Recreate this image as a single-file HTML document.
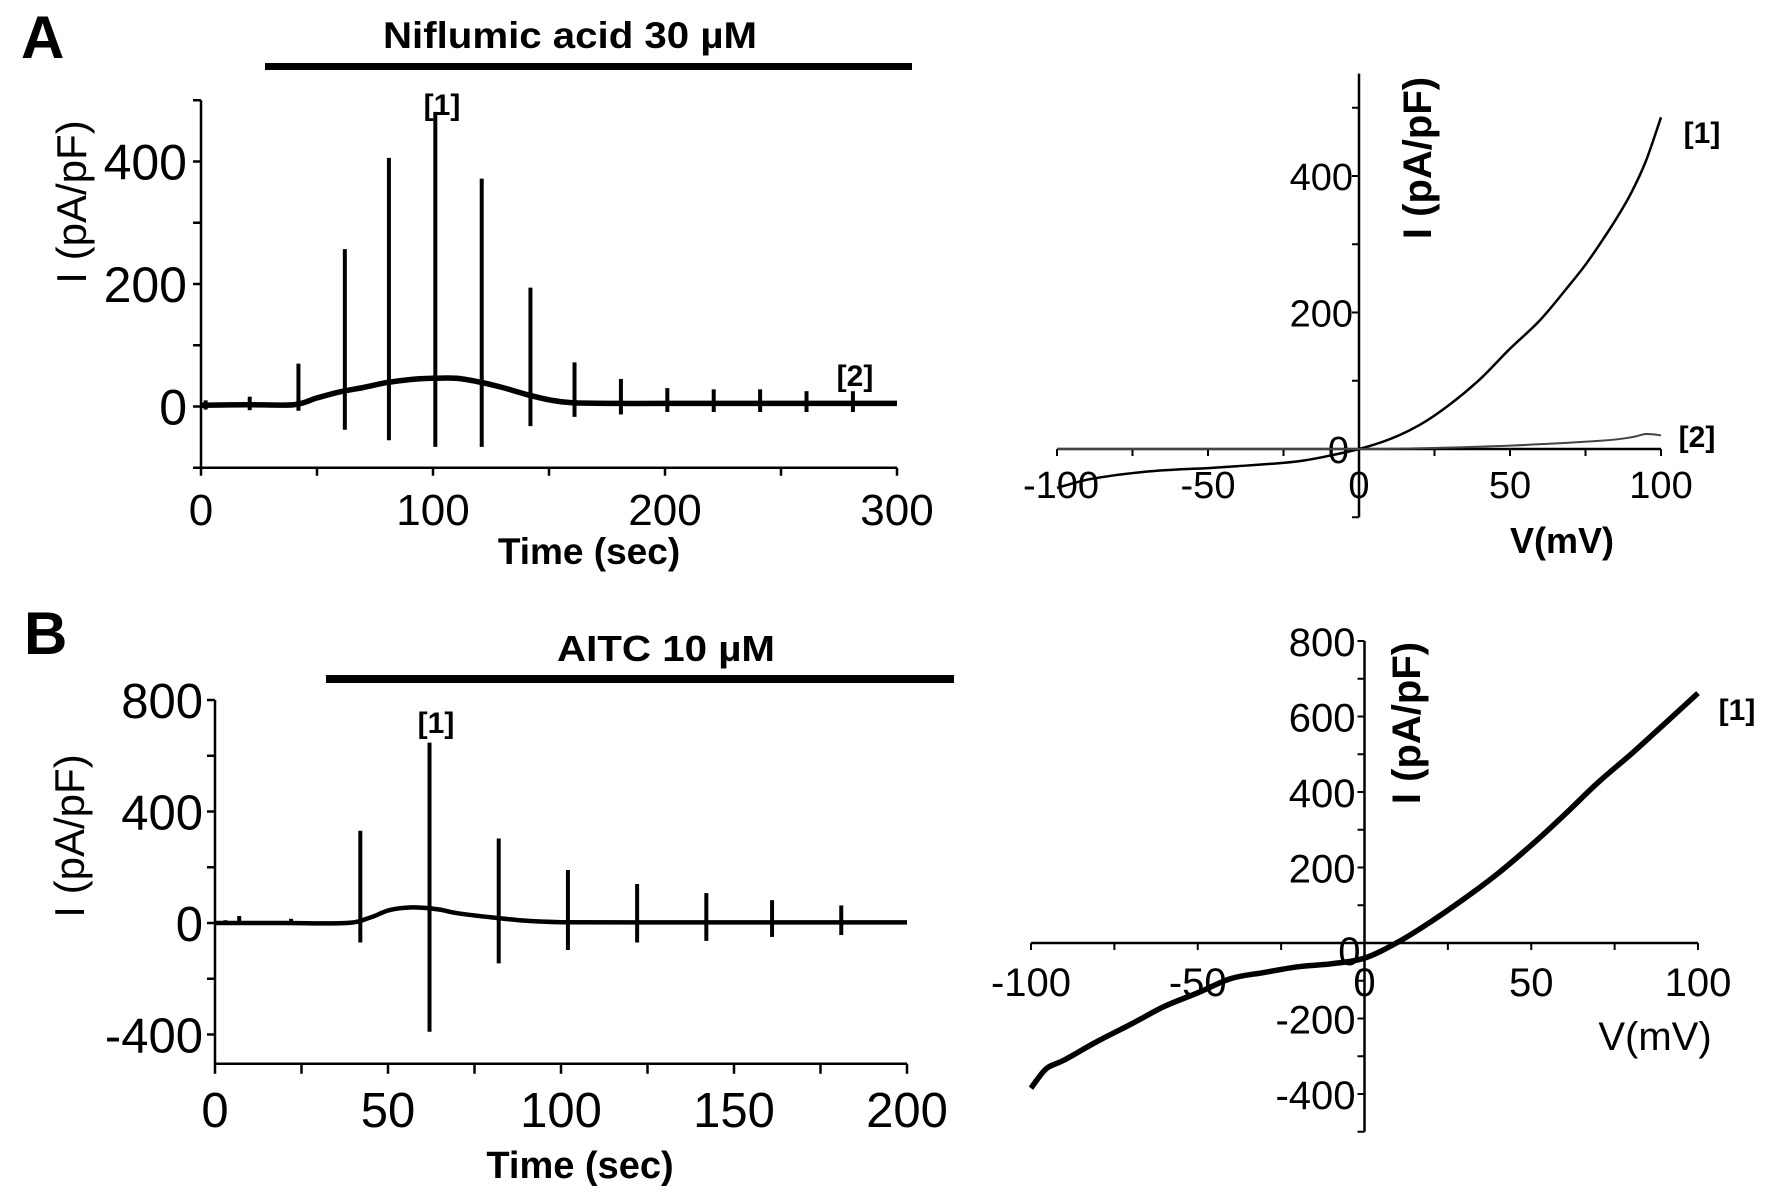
<!DOCTYPE html>
<html><head><meta charset="utf-8"><style>
html,body{margin:0;padding:0;background:#fff}
svg{display:block}
text{font-family:"Liberation Sans",Arial,sans-serif;fill:#000}
</style></head><body>
<svg id="fig" width="1772" height="1194" viewBox="0 0 1772 1194" xmlns="http://www.w3.org/2000/svg">
<rect width="1772" height="1194" fill="#fff"/>
<g id="root"></g>
</svg>
<script>
// ---- Panel A time trace data ----
const aBumpT = [0, 20, 40, 50, 60, 70, 80, 90, 100, 110, 120, 130, 140, 150, 160, 180, 200, 250, 300];
const aBumpI = [2, 3, 3, 14, 24, 31, 39, 44, 46, 46, 40, 31, 20, 11, 6, 5, 5, 5, 5];
const aSpikeT = [2, 21, 42, 62, 81, 101, 121, 142, 161, 181, 201, 221, 241, 261, 281];
const aSpikeUp = [10, 16, 70, 257, 406, 481, 372, 194, 72, 45, 30, 28, 28, 25, 25];
const aSpikeDn = [-5, -6, -7, -38, -55, -66, -66, -32, -17, -13, -9, -9, -9, -9, -9];
const aXTicks = [0, 100, 200, 300];
const aYTicks = [0, 200, 400];
// ---- Panel A IV data ----
const ivAV = [-100, -90, -80, -70, -60, -50, -40, -30, -20, -10, 0, 10, 20, 30, 40, 50, 60, 70, 75, 80, 85, 90, 95, 100];
const ivA1 = [-57, -45, -38, -33, -30, -28, -25, -22, -18, -10, 0, 14, 35, 65, 102, 147, 189, 242, 270, 302, 336, 374, 422, 486];
const ivA2V = [-100, -50, 0, 20, 50, 80, 90, 95, 100];
const ivA2 = [0, 0, 0, 1, 5, 12, 17, 22, 20];
const ivAXTicks = [-100, -50, 0, 50, 100];
const ivAYTicks = [0, 200, 400];
// ---- Panel B time trace data ----
const bBumpT = [0, 20, 38, 45, 50, 55, 60, 65, 70, 80, 90, 100, 120, 150, 200];
const bBumpI = [0, 0, 0, 20, 45, 55, 55, 48, 35, 20, 8, 3, 2, 2, 2];
const bSpikeT = [3, 7, 22, 42, 62, 82, 102, 122, 142, 161, 181];
const bSpikeUp = [10, 25, 15, 331, 647, 303, 190, 140, 107, 82, 63];
const bSpikeDn = [-5, -5, -5, -70, -390, -145, -97, -70, -64, -50, -43];
const bXTicks = [0, 50, 100, 150, 200];
const bYTicks = [-400, 0, 400, 800];
// ---- Panel B IV data ----
const ivBV = [-100, -98, -95, -90, -80, -70, -60, -50, -40, -30, -20, -10, 0, 10, 20, 30, 40, 50, 60, 70, 80, 90, 100];
const ivBI = [-385, -360, -330, -310, -260, -215, -168, -132, -94, -78, -63, -55, -40, 2, 57, 118, 184, 259, 340, 425, 501, 581, 662];
const ivBXTicks = [-100, -50, 0, 50, 100];
const ivBYTicks = [-400, -200, 0, 200, 400, 600, 800];

const NS = "http://www.w3.org/2000/svg";
const root = document.getElementById('root');
function mk(tag, attrs, parent) {
  const e = document.createElementNS(NS, tag);
  for (const k in attrs) e.setAttribute(k, attrs[k]);
  (parent || root).appendChild(e);
  return e;
}
function txt(s, x, y, size, weight, anchor, parent) {
  const t = mk('text', {x: x, y: y, 'font-size': size, 'font-weight': weight || 'normal', 'text-anchor': anchor || 'middle'}, parent);
  t.textContent = s;
  return t;
}
function lin(d0, d1, r0, r1) { return v => r0 + (v - d0) * (r1 - r0) / (d1 - d0); }
function smoothPath(xs, ys, X, Y) {
  const p = xs.map((v, i) => [X(v), Y(ys[i])]);
  let d = 'M' + p[0][0].toFixed(1) + ',' + p[0][1].toFixed(1);
  for (let i = 0; i < p.length - 1; i++) {
    const p0 = p[Math.max(0, i - 1)], p1 = p[i], p2 = p[i + 1], p3 = p[Math.min(p.length - 1, i + 2)];
    const c1 = [p1[0] + (p2[0] - p0[0]) / 6, p1[1] + (p2[1] - p0[1]) / 6];
    const c2 = [p2[0] - (p3[0] - p1[0]) / 6, p2[1] - (p3[1] - p1[1]) / 6];
    d += 'C' + c1[0].toFixed(1) + ',' + c1[1].toFixed(1) + ' ' + c2[0].toFixed(1) + ',' + c2[1].toFixed(1) + ' ' + p2[0].toFixed(1) + ',' + p2[1].toFixed(1);
  }
  return d;
}

// ===== Panel A: time trace =====
(function () {
  const g = mk('g', {});
  
  
  const X = lin(0, 300, 201, 897), Y = lin(0, 400, 406.5, 161.5);
  const axis = mk('path', {d: `M${X(0)},${Y(500)}V${Y(-100)}H${X(300)}`, stroke: '#000', 'stroke-width': 2.5, fill: 'none'}, g);
  
  
  for (let v = -100; v <= 500; v += 100) mk('line', {x1: X(0) - 8, x2: X(0), y1: Y(v), y2: Y(v), stroke: '#000', 'stroke-width': 2.5}, g);
  for (let v = 0; v <= 300; v += 50) mk('line', {x1: X(v), x2: X(v), y1: Y(-100), y2: Y(-100) + 8, stroke: '#000', 'stroke-width': 2.5}, g);
  aXTicks.forEach(v => { const t = txt(String(v), X(v), 525, 44, 'normal', 'middle', g);   });
  aYTicks.forEach(v => { const t = txt(String(v), X(0) - 14, Y(v) + 18, 50, 'normal', 'end', g);   });
  const xt = txt('Time (sec)', 589, 564, 37, 'bold', 'middle', g);
   
  const yt = txt('I (pA/pF)', 0, 0, 42, 'normal', 'middle', g);
  yt.setAttribute('transform', 'translate(86,202) rotate(-90)');
   
  const base = mk('path', {d: smoothPath(aBumpT, aBumpI, X, Y), stroke: '#000', 'stroke-width': 5.5, fill: 'none', 'stroke-linejoin': 'round'}, g);
  
  
  aSpikeT.forEach((t, i) => {
    const s = mk('line', {x1: X(t), x2: X(t), y1: Y(aSpikeDn[i]), y2: Y(aSpikeUp[i]), stroke: '#000', 'stroke-width': 4}, g);
    
    
  });
  const l1 = txt('[1]', 442, 115, 30, 'bold', 'middle', g);  
  const l2 = txt('[2]', 855, 386, 30, 'bold', 'middle', g);  
})();

// Panel labels & drug bars
(function () {
  const a = txt('A', 21, 58, 60, 'bold', 'start');  
  const t = txt('Niflumic acid 30 µM', 570, 48, 37, 'bold', 'middle'); t.setAttribute('textLength', 374); t.setAttribute('lengthAdjust', 'spacingAndGlyphs');
   
  const r = mk('rect', {x: 265, y: 63, width: 647, height: 7, fill: '#000'});  
  const b = txt('B', 24, 654, 60, 'bold', 'start');  
  const t2 = txt('AITC 10 µM', 666, 661, 36, 'bold', 'middle'); t2.setAttribute('textLength', 218); t2.setAttribute('lengthAdjust', 'spacingAndGlyphs');
   
  const r2 = mk('rect', {x: 326, y: 675, width: 628, height: 8, fill: '#000'});  
})();

// ===== Panel A IV =====
(function () {
  const g = mk('g', {});
  
  
  const X = lin(-100, 100, 1057, 1661), Y = lin(0, 400, 449, 176);
  const ax = mk('path', {d: `M${X(-100)},${Y(0)}H${X(100)}M${X(0)},${Y(550)}V${Y(-100)}`, stroke: '#000', 'stroke-width': 2.5, fill: 'none'}, g);
   
  for (let v = -100; v <= 100; v += 25) mk('line', {x1: X(v), x2: X(v), y1: Y(0), y2: Y(0) + 7, stroke: '#000', 'stroke-width': 2}, g);
  for (let v = -100; v <= 500; v += 100) mk('line', {x1: X(0) - 7, x2: X(0), y1: Y(v), y2: Y(v), stroke: '#000', 'stroke-width': 2}, g);
  ivAXTicks.forEach(v => { const t = txt(String(v), X(v) + (v === -100 ? 4 : 0), 498, 38, 'normal', 'middle', g);   });
  ivAYTicks.forEach(v => { const t = txt(String(v), v === 0 ? X(0) - 10 : X(0) - 6, Y(v) + 14, 38, 'normal', 'end', g);   });
  const xt = txt('V(mV)', 1562, 553, 36, 'bold', 'middle', g);  
  const yt = txt('I (pA/pF)', 0, 0, 40, 'bold', 'middle', g); yt.setAttribute('transform', 'translate(1431,158) rotate(-90)');
   
  const c1 = mk('path', {d: smoothPath(ivAV, ivA1, X, Y), stroke: '#000', 'stroke-width': 2.5, fill: 'none'}, g);  
  const c2 = mk('path', {d: smoothPath(ivA2V, ivA2, X, Y), stroke: '#444', 'stroke-width': 2, fill: 'none'}, g);  
  const l1 = txt('[1]', 1702, 143, 30, 'bold', 'middle', g);  
  const l2 = txt('[2]', 1697, 447, 30, 'bold', 'middle', g);  
})();

// ===== Panel B time trace =====
(function () {
  const g = mk('g', {});
  
  
  const X = lin(0, 200, 215, 907), Y = lin(0, 800, 923, 700);
  const ax = mk('path', {d: `M${X(0)},${Y(800)}V${Y(-505)}H${X(200)}`, stroke: '#000', 'stroke-width': 2.5, fill: 'none'}, g);
   
  for (let v = -400; v <= 800; v += 200) mk('line', {x1: X(0) - 8, x2: X(0), y1: Y(v), y2: Y(v), stroke: '#000', 'stroke-width': 2.5}, g);
  for (let v = 0; v <= 200; v += 25) mk('line', {x1: X(v), x2: X(v), y1: Y(-505), y2: Y(-505) + 10, stroke: '#000', 'stroke-width': 2.5}, g);
  bXTicks.forEach(v => { const t = txt(String(v), X(v), 1127, 49, 'normal', 'middle', g);   });
  bYTicks.forEach(v => { const t = txt(String(v), X(0) - 12, Y(v) + 18, 49, 'normal', 'end', g);   });
  const xt = txt('Time (sec)', 580, 1178, 38, 'bold', 'middle', g);  
  const yt = txt('I (pA/pF)', 0, 0, 42, 'normal', 'middle', g); yt.setAttribute('transform', 'translate(84,836) rotate(-90)');
   
  const base = mk('path', {d: smoothPath(bBumpT, bBumpI, X, Y), stroke: '#000', 'stroke-width': 4.5, fill: 'none'}, g);
   
  bSpikeT.forEach((t, i) => {
    const s = mk('line', {x1: X(t), x2: X(t), y1: Y(bSpikeDn[i]), y2: Y(bSpikeUp[i]), stroke: '#000', 'stroke-width': 4}, g);
    
    
  });
  const l1 = txt('[1]', 436, 733, 30, 'bold', 'middle', g);  
})();

// ===== Panel B IV =====
(function () {
  const g = mk('g', {});
  
  
  const X = lin(-100, 100, 1031, 1698), Y = lin(0, 800, 943, 641);
  const ax = mk('path', {d: `M${X(-100)},${Y(0)}H${X(100)}M${X(0)},${Y(800)}V${Y(-500)}`, stroke: '#000', 'stroke-width': 2.5, fill: 'none'}, g);
   
  for (let v = -100; v <= 100; v += 25) mk('line', {x1: X(v), x2: X(v), y1: Y(0), y2: Y(0) + 7, stroke: '#000', 'stroke-width': 2}, g);
  for (let v = -500; v <= 800; v += 100) mk('line', {x1: X(0) - 7, x2: X(0), y1: Y(v), y2: Y(v), stroke: '#000', 'stroke-width': 2}, g);
  ivBXTicks.forEach(v => { const t = txt(String(v), X(v), 996, 40, 'normal', 'middle', g);   });
  ivBYTicks.forEach(v => { const t = txt(String(v), v === 0 ? X(0) - 4 : X(0) - 9, Y(v) + (v === 0 ? 22 : 15), 40, 'normal', 'end', g);   });
  const xt = txt('V(mV)', 1655, 1050, 40, 'normal', 'middle', g);  
  const yt = txt('I (pA/pF)', 0, 0, 40, 'bold', 'middle', g); yt.setAttribute('transform', 'translate(1420,723) rotate(-90)');
   
  const c = mk('path', {d: smoothPath(ivBV, ivBI, X, Y), stroke: '#000', 'stroke-width': 5.5, fill: 'none', 'stroke-linejoin': 'round'}, g);
   
  const l1 = txt('[1]', 1737, 720, 30, 'bold', 'middle', g);  
})();
</script>
</body></html>
